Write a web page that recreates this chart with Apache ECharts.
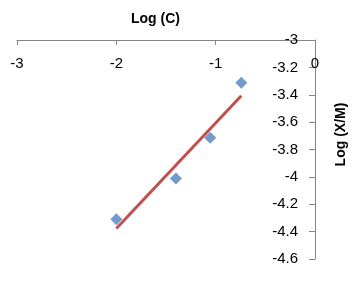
<!DOCTYPE html>
<html>
<head>
<meta charset="utf-8">
<script src="https://cdn.jsdelivr.net/npm/echarts@6/dist/echarts.min.js"></script>
<style>
html,body{margin:0;padding:0;background:#fff;}
#c{width:364px;height:284px;}
</style>
</head>
<body>
<div id="c"></div>
<script>
const logC = [-2.0, -1.40, -1.055, -0.742];
const logXM = [-4.31, -4.012, -3.715, -3.312];
const xTicks = [-3, -2, -1, 0];
const yTicks = [-3, -3.2, -3.4, -3.6, -3.8, -4, -4.2, -4.4, -4.6];

// linear trendline (least squares) over the data range
const n = logC.length;
const mx = logC.reduce((a, b) => a + b, 0) / n;
const my = logXM.reduce((a, b) => a + b, 0) / n;
let sxy = 0, sxx = 0;
for (let i = 0; i < n; i++) { sxy += (logC[i] - mx) * (logXM[i] - my); sxx += (logC[i] - mx) ** 2; }
const slope = sxy / sxx, icpt = my - slope * mx;
const xMin = Math.min(...logC), xMax = Math.max(...logC);
const trend = [[xMin, icpt + slope * xMin], [xMax, icpt + slope * xMax]];

const font = 'Liberation Sans';
const chart = echarts.init(document.getElementById('c'), null, {renderer: 'canvas'});
chart.setOption({
  animation: false,
  backgroundColor: '#fff',
  title: {
    text: 'Log (C)', left: 131, top: 12, padding: 0,
    textStyle: {fontFamily: font, fontSize: 14, fontWeight: 'bold', color: '#000'}
  },
  grid: {left: 17, right: 49, top: 40, bottom: 25, containLabel: false},
  xAxis: {
    type: 'value', position: 'top', min: xTicks[0], max: xTicks[xTicks.length - 1], interval: 1,
    axisLine: {show: true, onZero: false, lineStyle: {color: '#868686', width: 1}},
    axisTick: {show: true, inside: true, length: 5, lineStyle: {color: '#868686'}},
    axisLabel: {inside: true, margin: 16, fontFamily: font, fontSize: 15, color: '#000'},
    splitLine: {show: false}
  },
  yAxis: {
    type: 'value', position: 'right', min: yTicks[yTicks.length - 1], max: yTicks[0], interval: 0.2,
    name: 'Log (X/M)', nameLocation: 'middle', nameGap: 19,
    nameTextStyle: {fontFamily: font, fontSize: 14, fontWeight: 'bold', color: '#000',
      padding: [0, 0, 0, 30]},
    axisLine: {show: true, onZero: false, lineStyle: {color: '#868686', width: 1}},
    axisTick: {show: true, inside: true, length: 6, lineStyle: {color: '#868686'}},
    axisLabel: {inside: true, margin: 17, fontFamily: font, fontSize: 15, color: '#000',
      formatter: v => String(Math.round(v * 10) / 10)},
    splitLine: {show: false}
  },
  series: [
    {
      type: 'line', data: trend, showSymbol: false, symbol: 'none',
      lineStyle: {color: '#C0504D', width: 3}, z: 2
    },
    {
      type: 'scatter', data: logC.map((x, i) => [x, logXM[i]]),
      symbol: 'diamond', symbolSize: [12, 12],
      itemStyle: {color: '#4F81BD'}, z: 3
    }
  ]
});
</script>
</body>
</html>
